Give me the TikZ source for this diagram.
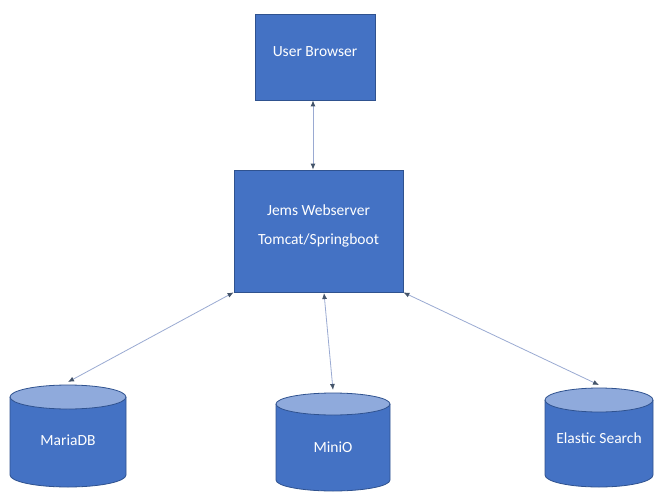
\documentclass[tikz,border=0pt]{standalone}
\usepackage{fontspec}
\setmainfont{Carlito}
\usetikzlibrary{arrows.meta}
\definecolor{boxfill}{HTML}{4472C4}
\definecolor{boxline}{HTML}{2F528F}
\definecolor{cyltopc}{HTML}{8FAADC}
\definecolor{connc}{HTML}{9AAAD2}
\definecolor{tipc}{HTML}{44546A}
\tikzset{
  box/.style={fill=boxfill, draw=boxline, line width=0.8pt, inner sep=0pt},
  lbl/.style={text=white, font=\fontsize{15.5}{18}\selectfont, inner sep=0pt},
  conn/.style={draw=connc, line width=0.8pt, {Latex[length=6pt,width=5pt,color=tipc]}-{Latex[length=6pt,width=5pt,color=tipc]}},
  cylbody/.style={fill=boxfill},
  cylline/.style={draw=boxline, line width=0.8pt},
  cyltop/.style={fill=cyltopc, draw=boxline, line width=0.8pt}
}
\newcommand{\dbcyl}[6]{%
  \fill[cylbody] ({#2-#5},#3) -- ({#2-#5},#4) arc[start angle=180,end angle=360,x radius=#5pt,y radius=#6pt] -- ({#2+#5},#3) -- cycle;
  \draw[cylline] ({#2-#5},#3) -- ({#2-#5},#4) arc[start angle=180,end angle=360,x radius=#5pt,y radius=#6pt] -- ({#2+#5},#3);
  \filldraw[cyltop] (#2,#3) ellipse[x radius=#5pt,y radius=#6pt];
  \coordinate (#1top) at (#2,{#3+#6+3});
}
\begin{document}
\begin{tikzpicture}[x=1pt,y=1pt]
\fill[white] (0,0) rectangle (655,491);
\useasboundingbox (0,0) rectangle (655,491);
% boxes
\node[box, minimum width=120pt, minimum height=86pt] (ub) at (315,434) {};
\node[lbl] (ubl) at (315,439) {User Browser};
\node[box, minimum width=169pt, minimum height=122pt] (jems) at (318.5,260) {};
\node[lbl] (jl1) at (318.5,281) {Jems Webserver};
\node[lbl] (jl2) at (318.5,251) {Tomcat/Springboot};
% cylinders
\dbcyl{maria}{68}{94}{16}{58}{12}
\node[lbl] (marial) at (68,51) {MariaDB};
\dbcyl{minio}{333}{87}{11}{57}{11}
\node[lbl] (miniol) at (333,44) {MiniO};
\dbcyl{elastic}{599}{91}{16}{54}{12}
\node[lbl] (elasticl) at (599,53) {Elastic Search};
% connectors
\coordinate (jbm) at (324,198);
\draw[conn] (ub.south -| 313,0) -- (jems.north -| 313,0);
\draw[conn] (jems.south west) -- (mariatop);
\draw[conn] (jbm) -- (miniotop);
\draw[conn] (jems.south east) -- (elastictop);
\end{tikzpicture}
\end{document}
